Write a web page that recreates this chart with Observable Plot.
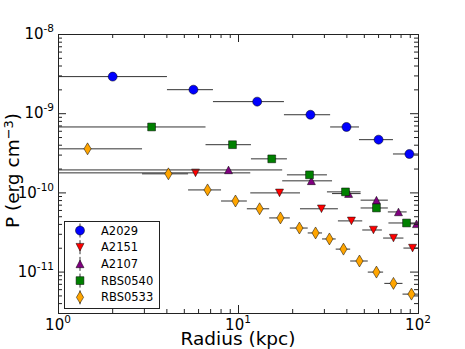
<!DOCTYPE html>
<html><head><meta charset="utf-8">
<script src="https://cdn.jsdelivr.net/npm/d3@7"></script>
<script src="https://cdn.jsdelivr.net/npm/@observablehq/plot@0.6"></script>
<style>html,body{margin:0;padding:0;background:#fff;} #chart{position:relative;width:465px;height:349px;}</style>
</head><body><div id="chart"></div>
<script>
// ---- data (radius in kpc, pressure in erg cm^-3) ----
const seriesNames = ["A2029", "A2151", "A2107", "RBS0540", "RBS0533"];
const seriesColors = ["#0000ff", "#ff0000", "#800080", "#008000", "#ffa500"];

const a2029X  = [2.0, 5.62, 12.7, 25.1, 39.8, 60, 89];
const a2029Y  = [2.94e-9, 2.01e-9, 1.42e-9, 9.7e-10, 6.8e-10, 4.7e-10, 3.1e-10];
const a2029Lo = [0.5, 4.03, 7.26, 18.0, 32.5, 47.0, 72.6];
const a2029Hi = [4.03, 7.26, 18.0, 32.5, 47.0, 72.6, 110];

const a2151X  = [5.77, 16.9, 28.9, 42.4, 56.2, 72.6, 92.7];
const a2151Y  = [1.79e-10, 1.0e-10, 6.3e-11, 4.43e-11, 3.4e-11, 2.69e-11, 2.01e-11];
const a2151Lo = [0.5, 11.7, 22.1, 35.9, 49, 64, 83];
const a2151Hi = [11.7, 22.1, 35.9, 49, 63, 83, 110];

const a2107X  = [8.8, 25.4, 40.9, 58.4, 77.4, 97.5];
const a2107Y  = [1.95e-10, 1.42e-10, 9.8e-11, 8.1e-11, 5.75e-11, 4.07e-11];
const a2107Lo = [0.5, 17.6, 33.3, 48, 68, 86.5];
const a2107Hi = [17.6, 33.3, 48, 68, 86.5, 110];

const rbs0540X  = [3.29, 9.26, 15.3, 24.8, 39.3, 58.4, 85.8];
const rbs0540Y  = [6.8e-10, 4.06e-10, 2.69e-10, 1.69e-10, 1.03e-10, 6.45e-11, 4.17e-11];
const rbs0540Lo = [0.5, 6.6, 11.8, 18.7, 31.2, 48, 68.5];
const rbs0540Hi = [6.6, 11.8, 18.7, 31.2, 48, 68, 110];

const rbs0533X  = [1.45, 4.08, 6.73, 9.62, 13.1, 17.1, 21.8, 26.8, 32.0, 38.3, 47.0, 58.4, 72.6, 91.4];
const rbs0533Y  = [3.6e-10, 1.74e-10, 1.09e-10, 7.9e-11, 6.3e-11, 4.83e-11, 3.6e-11, 3.12e-11, 2.62e-11, 1.95e-11, 1.38e-11, 1.0e-11, 7.2e-12, 5.27e-12];
const rbs0533Lo = [0.5, 2.93, 5.28, 8.05, 11.2, 14.9, 19.4, 24.4, 29.3, 34.9, 42, 52.6, 65, 82];
const rbs0533Hi = [2.93, 5.28, 8.05, 11.2, 14.9, 19.4, 24.4, 29.3, 34.9, 42, 52.6, 64, 82, 110];

// ---- axes ----
const xDomain = [1, 100];
const yDomain = [3e-12, 1e-8];
const xMajor = [1, 10, 100];
const xMajorExp = ["0", "1", "2"];
const xMinor = [2, 3, 4, 5, 6, 7, 8, 9, 20, 30, 40, 50, 60, 70, 80, 90];
const yMajor = [1e-8, 1e-9, 1e-10, 1e-11];
const yMajorExp = ["-8", "-9", "-10", "-11"];
const yMinorMult = [2, 3, 4, 5, 6, 7, 8, 9];
const yMinorDecades = [1e-12, 1e-11, 1e-10, 1e-9];
const yMinor = yMinorDecades.flatMap(d => yMinorMult.map(m => m * d)).filter(v => v >= yDomain[0] && v < yDomain[1]);
const xTitle = "Radius (kpc)";
const yTitleMain = "P (erg cm";
const yTitleSup = "\u22123";
const yTitleEnd = ")";

// ---- layout ----
const W = 465, H = 349, mL = 58, mR = 47, mT = 34, mB = 36;
const plotW = W - mL - mR, plotH = H - mT - mB;
const ink = "#222";

const shapes = [
  {draw(c) { c.moveTo(4.5, 0); c.arc(0, 0, 4.5, 0, 2 * Math.PI); c.closePath(); }},
  {draw(c) { c.moveTo(-4, -3.8); c.lineTo(4, -3.8); c.lineTo(0, 3.8); c.closePath(); }},
  {draw(c) { c.moveTo(0, -3.8); c.lineTo(4, 3.8); c.lineTo(-4, 3.8); c.closePath(); }},
  {draw(c) { c.moveTo(-3.9, -3.9); c.lineTo(3.9, -3.9); c.lineTo(3.9, 3.9); c.lineTo(-3.9, 3.9); c.closePath(); }},
  {draw(c) { c.moveTo(0, -6); c.lineTo(3.6, 0); c.lineTo(0, 6); c.lineTo(-3.6, 0); c.closePath(); }}
];

function rows(xs, ys, lo, hi) { return xs.map((x, i) => ({x, y: ys[i], lo: lo[i], hi: hi[i]})); }
const tables = [
  rows(a2029X, a2029Y, a2029Lo, a2029Hi),
  rows(a2151X, a2151Y, a2151Lo, a2151Hi),
  rows(a2107X, a2107Y, a2107Lo, a2107Hi),
  rows(rbs0540X, rbs0540Y, rbs0540Lo, rbs0540Hi),
  rows(rbs0533X, rbs0533Y, rbs0533Lo, rbs0533Hi)
];

const seriesMarks = tables.flatMap((t, k) => [
  Plot.ruleY(t, {y: "y", x1: "lo", x2: "hi", stroke: "#333", strokeWidth: 1, clip: true}),
  Plot.dot(t, {x: "x", y: "y", symbol: shapes[k], r: 4, fill: seriesColors[k], stroke: "#000", strokeWidth: 0.5, clip: true})
]);

const tickMarks = [
  Plot.tickX(xMajor, {x: d => d, insetTop: plotH - 8, stroke: ink}),
  Plot.tickX(xMajor, {x: d => d, insetBottom: plotH - 8, stroke: ink}),
  Plot.tickX(xMinor, {x: d => d, insetTop: plotH - 4, stroke: ink}),
  Plot.tickX(xMinor, {x: d => d, insetBottom: plotH - 4, stroke: ink}),
  Plot.tickY(yMajor, {y: d => d, insetRight: plotW - 8, stroke: ink}),
  Plot.tickY(yMajor, {y: d => d, insetLeft: plotW - 8, stroke: ink}),
  Plot.tickY(yMinor, {y: d => d, insetRight: plotW - 4, stroke: ink}),
  Plot.tickY(yMinor, {y: d => d, insetLeft: plotW - 4, stroke: ink})
];

const chart = Plot.plot({
  width: W, height: H,
  marginLeft: mL, marginRight: mR, marginTop: mT, marginBottom: mB,
  style: {fontFamily: "DejaVu Sans", background: "white", color: "#000", overflow: "visible"},
  x: {type: "log", domain: xDomain, axis: null},
  y: {type: "log", domain: yDomain, axis: null},
  marks: [
    ...seriesMarks,
    ...tickMarks,
    Plot.frame({stroke: ink, strokeWidth: 1})
  ]
});
document.getElementById("chart").appendChild(chart);

// ---- scales from the plot ----
function scaleFn(name) {
  const s = chart.scale(name);
  if (s && typeof s.apply === "function") return v => s.apply(v);
  return d3.scaleLog(s.domain, s.range);
}
const sx = scaleFn("x"), sy = scaleFn("y");
const svg = d3.select(chart);
const baseFS = 15, expFS = 10.5;

// x tick labels: 10^n, centred on tick
const gx = svg.append("g").attr("font-family", "DejaVu Sans").attr("fill", "#000");
xMajor.forEach((v, i) => {
  const t = gx.append("text").attr("x", sx(v)).attr("y", H - mB + 17).attr("text-anchor", "middle").attr("font-size", baseFS);
  t.append("tspan").text("10");
  t.append("tspan").attr("dy", -7).attr("font-size", expFS).text(xMajorExp[i]);
});
// y tick labels
const gy = svg.append("g").attr("font-family", "DejaVu Sans").attr("fill", "#000");
yMajor.forEach((v, i) => {
  const t = gy.append("text").attr("x", mL - 4).attr("y", sy(v) + 5.2).attr("text-anchor", "end").attr("font-size", baseFS);
  t.append("tspan").text("10");
  t.append("tspan").attr("dy", -7).attr("font-size", expFS).text(yMajorExp[i]);
});
// axis titles
svg.append("text").attr("x", mL + plotW / 2).attr("y", H - 4).attr("text-anchor", "middle")
  .attr("font-family", "DejaVu Sans").attr("font-size", 18.5).attr("fill", "#000").text(xTitle);
const yt = svg.append("text").attr("transform", `translate(19,${mT + plotH / 2 - 3}) rotate(-90)`)
  .attr("text-anchor", "middle").attr("font-family", "DejaVu Sans").attr("font-size", 18.5).attr("fill", "#000");
yt.append("tspan").text(yTitleMain);
yt.append("tspan").attr("dy", -6).attr("font-size", 13).text(yTitleSup);
yt.append("tspan").attr("dy", 6).text(yTitleEnd);

// ---- legend (lower-left, inside the axes) ----
const lg = svg.append("g").attr("transform", "translate(64,221)").attr("font-family", "DejaVu Sans");
lg.append("rect").attr("x", 0.5).attr("y", 0.5).attr("width", 95).attr("height", 87)
  .attr("fill", "white").attr("stroke", ink).attr("stroke-width", 1);
seriesNames.forEach((name, k) => {
  const cy = 9.5 + k * 16.7;
  const g = lg.append("g").attr("transform", `translate(16,${cy})`);
  g.append("line").attr("x1", 0).attr("x2", 0).attr("y1", -7).attr("y2", 7).attr("stroke", "#333");
  g.append("path").attr("d", d3.symbol().type(shapes[k])()).attr("fill", seriesColors[k]).attr("stroke", "#000").attr("stroke-width", 0.5);
  lg.append("text").attr("x", 37).attr("y", cy).attr("dy", "0.35em").attr("text-anchor", "start")
    .attr("font-size", 11.5).attr("fill", "#000").text(name);
});
</script></body></html>
